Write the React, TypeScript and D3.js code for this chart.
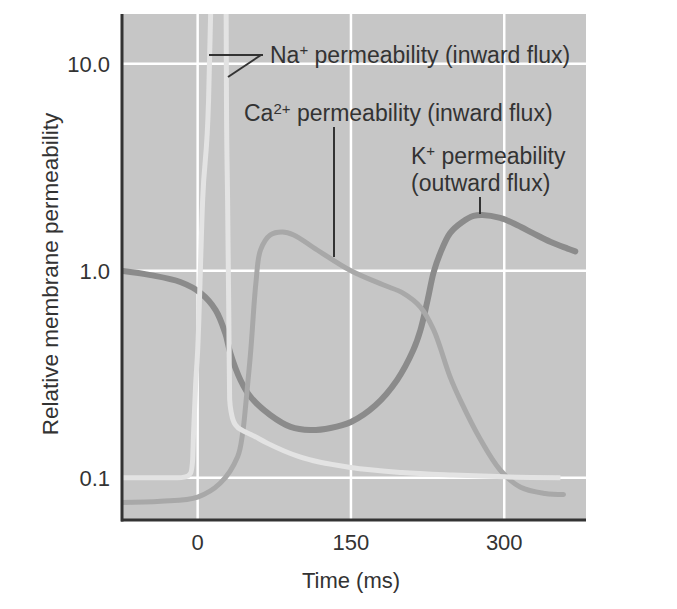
import React from "react";
import * as d3 from "d3";

// Time (ms), relative permeability
const naTime = [-75, -40, -20, -12, -7, -5, -4, -2, 0, 4.9, 10.7, 12.7, 15, 20, 25, 27.5, 27.9, 28.2, 29.3, 30.5, 31.3, 33, 37, 45, 52, 68, 100, 150, 200, 250, 300, 355];
const naPerm = [0.1, 0.1, 0.1, 0.101, 0.105, 0.12, 0.165, 0.28, 0.41, 2.2, 6.7, 17.4, 40, 100, 60, 40, 17, 6.7, 2.2, 0.6, 0.24, 0.205, 0.18, 0.168, 0.162, 0.147, 0.126, 0.112, 0.106, 0.103, 0.101, 0.1];

const caTime = [-75, -36, 0, 22, 39, 44, 47, 52, 57, 61.5, 71, 83, 94, 117, 150, 182, 201, 218, 231, 247, 257, 277, 296, 316, 340, 358];
const caPerm = [0.076, 0.077, 0.0807, 0.094, 0.126, 0.164, 0.224, 0.414, 0.873, 1.26, 1.49, 1.54, 1.49, 1.26, 1.0, 0.853, 0.78, 0.668, 0.517, 0.307, 0.237, 0.152, 0.109, 0.09, 0.084, 0.083];

const kTime = [-75, -46, -17, 3, 17.6, 27, 32, 42, 52, 71, 91, 110, 130, 150, 174, 195, 211, 218, 225, 231, 237.5, 247, 259, 270, 278.5, 296, 313, 328, 345, 362, 369.5];
const kPerm = [1.0, 0.953, 0.882, 0.78, 0.646, 0.5, 0.4, 0.296, 0.245, 0.201, 0.176, 0.17, 0.174, 0.186, 0.224, 0.296, 0.414, 0.517, 0.722, 0.986, 1.22, 1.52, 1.72, 1.84, 1.86, 1.8, 1.66, 1.52, 1.38, 1.28, 1.24];

const xTicks = [0, 150, 300];
const yTicks = [0.1, 1, 10];
const yTickLabels = ["0.1", "1.0", "10.0"];

const FONT = "'Liberation Sans', Arial, Helvetica, sans-serif";
const TEXT = "#333";

export default function App() {
  const left = 121, right = 586, top = 14, bottom = 520;
  const x = d3.scaleLinear().domain([-75, 380]).range([left, right]);
  const y = d3.scaleLog().domain([0.0625, 17.4]).range([bottom, top]);

  const mk = (ts: number[], vs: number[], curve: d3.CurveFactory) =>
    d3.line<number>()
      .x((_, i) => x(ts[i]))
      .y((v) => y(v))
      .curve(curve)(vs) || "";

  const smooth = d3.curveCatmullRom.alpha(0.5);
  const series = [
    { d: mk(kTime, kPerm, smooth), color: "#8b8b8b", w: 6, cap: "round" },
    { d: mk(caTime, caPerm, smooth), color: "#a8a8a8", w: 5, cap: "round" },
    { d: mk(naTime, naPerm, d3.curveMonotoneX), color: "#e3e3e3", w: 5, cap: "butt" },
  ];

  return (
    <svg width={677} height={609} style={{ position: "absolute", left: 0, top: 0, background: "#fff" }} fontFamily={FONT}>
      <defs>
        <clipPath id="plotclip">
          <rect x={left} y={top} width={right - left} height={bottom - top} />
        </clipPath>
      </defs>
      <rect x={left} y={top} width={right - left} height={bottom - top} fill="#c6c6c6" />
      {xTicks.map((t) => (
        <line key={"gx" + t} x1={x(t)} x2={x(t)} y1={top} y2={bottom} stroke="#fff" strokeWidth={2.5} />
      ))}
      {yTicks.map((t) => (
        <line key={"gy" + t} x1={left} x2={right} y1={y(t)} y2={y(t)} stroke="#fff" strokeWidth={2.5} />
      ))}
      <g clipPath="url(#plotclip)">
        {series.map((s, i) => (
          <path key={i} d={s.d} fill="none" stroke={s.color} strokeWidth={s.w} strokeLinecap={s.cap as any} strokeLinejoin="round" />
        ))}
      </g>
      {/* axes */}
      <line x1={left + 1} x2={left + 1} y1={top} y2={bottom + 1.5} stroke="#333" strokeWidth={3} />
      <line x1={left} x2={right} y1={bottom} y2={bottom} stroke="#333" strokeWidth={3} />
      {yTicks.map((t, i) => (
        <text key={"ty" + t} x={110} y={y(t) + 8} textAnchor="end" fontSize={22} fill={TEXT}>{yTickLabels[i]}</text>
      ))}
      {xTicks.map((t) => (
        <text key={"tx" + t} x={x(t)} y={550} textAnchor="middle" fontSize={22} fill={TEXT}>{t}</text>
      ))}
      <text x={351} y={588} textAnchor="middle" fontSize={22} fill={TEXT}>Time (ms)</text>
      <text transform="translate(58,274) rotate(-90)" textAnchor="middle" fontSize={22.5} fill={TEXT}>Relative membrane permeability</text>

      {/* annotations */}
      <line x1={209} x2={263} y1={55} y2={55} stroke="#333" strokeWidth={2} />
      <line x1={261} x2={228} y1={55} y2={77} stroke="#333" strokeWidth={2} />
      <text x={270} y={62.5} fontSize={23} fill={TEXT}>
        Na<tspan dy={-8} fontSize={15}>+</tspan><tspan dy={8}> permeability (inward flux)</tspan>
      </text>
      <line x1={334} x2={334} y1={127} y2={257} stroke="#333" strokeWidth={2} />
      <text x={244} y={121} fontSize={23} fill={TEXT}>
        Ca<tspan dy={-7} fontSize={15}>2+</tspan><tspan dy={7}> permeability (inward flux)</tspan>
      </text>
      <line x1={480} x2={480} y1={197} y2={214} stroke="#333" strokeWidth={2} />
      <text x={411} y={164} fontSize={23} fill={TEXT}>
        K<tspan dy={-8} fontSize={15}>+</tspan><tspan dy={8}> permeability</tspan>
      </text>
      <text x={411} y={191} fontSize={23} fill={TEXT}>(outward flux)</text>
    </svg>
  );
}
